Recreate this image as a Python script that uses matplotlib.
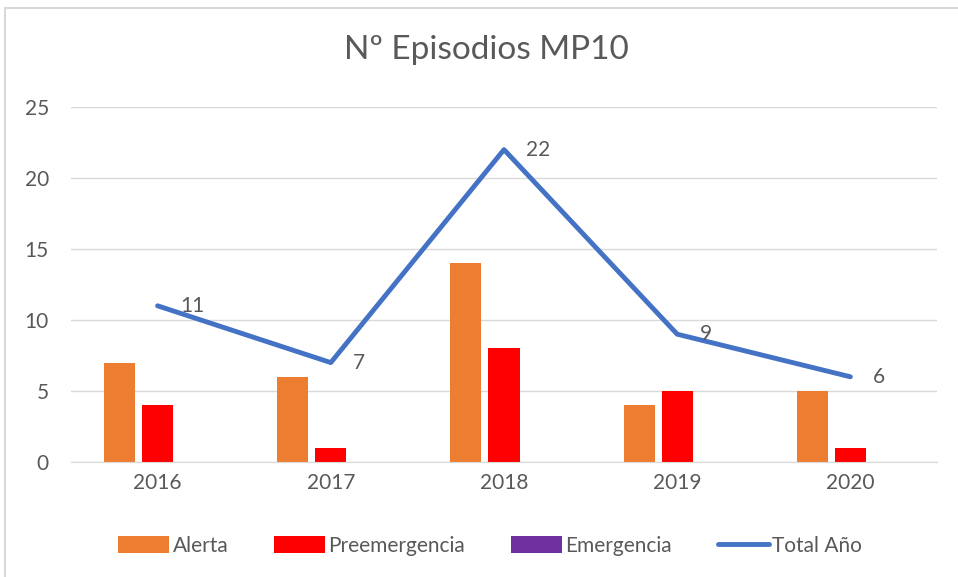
import numpy as np
import matplotlib.pyplot as plt
from matplotlib.patches import Rectangle

years = ['2016', '2017', '2018', '2019', '2020']
alerta = [7, 6, 14, 4, 5]
preemergencia = [4, 1, 8, 5, 1]
emergencia = [0, 0, 0, 0, 0]
total = [11, 7, 22, 9, 6]

plt.rcParams['font.family'] = ['Lato', 'DejaVu Sans']
txt = '#595959'

fig = plt.figure(figsize=(9.58, 5.77), dpi=100)
ax = fig.add_axes([71/958, 1 - 462/577, (937 - 71)/958, 355/577])

# light border around the chart area
fig.patches.append(Rectangle((5/958, -0.05), 1.0, 1 - 8/577 + 0.05, transform=fig.transFigure,
                             fill=False, edgecolor='#D9D9D9', linewidth=1.5))

x = np.arange(len(years))
w = 0.18
step = 0.22
b1 = ax.bar(x - step, alerta, w, color='#ED7D31', label='Alerta', zorder=2)
b2 = ax.bar(x, preemergencia, w, color='#FF0000', label='Preemergencia', zorder=2)
b3 = ax.bar(x + step, emergencia, w, color='#7030A0', label='Emergencia', zorder=2)
ln, = ax.plot(x, total, color='#4472C4', linewidth=3.5, solid_capstyle='round',
              solid_joinstyle='round', label='Total Año', zorder=3)

for xi, v in zip(x, total):
    ax.annotate(str(v), (xi, v), xytext=(16, 0), textcoords='offset points',
                ha='left', va='center', fontsize=15, color=txt, zorder=4)

ax.set_xlim(-0.5, len(years) - 0.5)
ax.set_ylim(0, 25)
ax.set_yticks(range(0, 26, 5))
ax.set_xticks(x)
ax.set_xticklabels(years)
ax.yaxis.grid(True, color='#D9D9D9', linewidth=1)
ax.set_axisbelow(True)
for s in ['top', 'right', 'left']:
    ax.spines[s].set_visible(False)
ax.spines['bottom'].set_color('#D9D9D9')
ax.tick_params(axis='both', length=0, labelsize=15, colors=txt)
ax.tick_params(axis='x', pad=8)
ax.tick_params(axis='y', pad=16)

fig.text(486/958, 1 - 50/577, 'Nº Episodios MP10', ha='center', va='center', fontsize=24, color=txt)

ax.legend([b1, b2, b3, ln], ['Alerta', 'Preemergencia', 'Emergencia', 'Total Año'],
          loc='center', bbox_to_anchor=((490 - 71)/866, (462 - 546)/355), ncol=4, frameon=False,
          fontsize=15, labelcolor=txt, handlelength=2.45, handleheight=0.85,
          handletextpad=0.15, columnspacing=2.2)

fig.savefig('out.png', dpi=100)
